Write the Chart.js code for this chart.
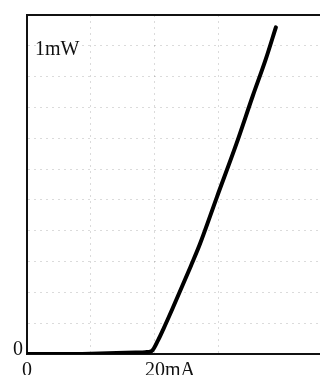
<!DOCTYPE html>
<html>
<head>
<meta charset="utf-8">
<script src="https://cdn.jsdelivr.net/npm/chart.js@4/dist/chart.umd.min.js"></script>
<style>
  html, body { margin: 0; padding: 0; background: #fff; }
  #wrap { width: 320px; height: 375px; }
</style>
</head>
<body>
<div id="wrap"><canvas id="liChart" width="320" height="375"></canvas></div>
<script>
// laser output power vs drive current
const currentMA = [0, 5, 10, 14, 17, 18.5, 19.5, 20.5, 21.3, 22.7, 25.6, 27, 29.7, 32.7, 35.3, 37.3, 38.9];
const powerMW   = [0, 0, 0.001, 0.003, 0.005, 0.006, 0.01, 0.045, 0.08, 0.145, 0.285, 0.355, 0.51, 0.68, 0.838, 0.955, 1.06];

const xTickValues = [0, 20];
const xTickLabels = ["0", "20mA"];
const yTickValues = [0, 1];
const yTickLabels = ["0", "1mW"];

const serif = '"Liberation Serif", "DejaVu Serif", serif';

const labelsPlugin = {
  id: "labels",
  afterDraw(chart) {
    const ctx = chart.ctx;
    const area = chart.chartArea;
    const xs = chart.scales.x, ys = chart.scales.y;
    ctx.save();
    // top frame line
    ctx.strokeStyle = "#111";
    ctx.lineWidth = 2;
    ctx.beginPath();
    ctx.moveTo(area.left - 1, area.top);
    ctx.lineTo(area.right, area.top);
    ctx.stroke();

    ctx.fillStyle = "#111";
    ctx.font = "20px " + serif;
    ctx.textBaseline = "alphabetic";
    // x labels: digits centred on the tick
    xTickValues.forEach((v, i) => {
      const px = xs.getPixelForValue(v);
      const num = xTickLabels[i].replace(/[^0-9]/g, "");
      const off = ctx.measureText(num).width / 2;
      ctx.textAlign = "left";
      ctx.fillText(xTickLabels[i], px - off, area.bottom + 22);
    });
    // y labels: zero outside, unit label inside the frame
    yTickValues.forEach((v, i) => {
      const py = ys.getPixelForValue(v);
      if (i === 0) {
        ctx.textAlign = "right";
        ctx.fillText(yTickLabels[i], area.left - 4, py + 1);
      } else {
        ctx.textAlign = "left";
        ctx.fillText(yTickLabels[i], area.left + 8, py + 9);
      }
    });
    ctx.restore();
  }
};

new Chart(document.getElementById("liChart").getContext("2d"), {
  type: "line",
  data: {
    datasets: [{
      data: currentMA.map((c, i) => ({ x: c, y: powerMW[i] })),
      borderColor: "#000",
      borderWidth: 4,
      pointRadius: 0,
      tension: 0.2,
      cubicInterpolationMode: "monotone",
      fill: false,
      borderCapStyle: "round",
      borderJoinStyle: "round"
    }]
  },
  options: {
    responsive: false,
    animation: false,
    layout: { padding: { top: 15, left: 0, right: 0, bottom: 0 } },
    plugins: { legend: { display: false }, tooltip: { enabled: false } },
    scales: {
      x: {
        type: "linear",
        min: 0,
        max: 45.8,
        ticks: { display: false, stepSize: 10 },
        grid: { color: "rgba(0,0,0,0.14)", lineWidth: 1, drawTicks: false },
        border: { display: true, color: "#111", width: 2, dash: [2, 4] },
        afterFit(axis) { axis.height = 21; }
      },
      y: {
        min: 0,
        max: 1.1,
        ticks: { display: false, stepSize: 0.1 },
        grid: { color: "rgba(0,0,0,0.14)", lineWidth: 1, drawTicks: false },
        border: { display: true, color: "#111", width: 2, dash: [2, 4] },
        afterFit(axis) { axis.width = 27; }
      }
    }
  },
  plugins: [labelsPlugin]
});
</script>
</body>
</html>
